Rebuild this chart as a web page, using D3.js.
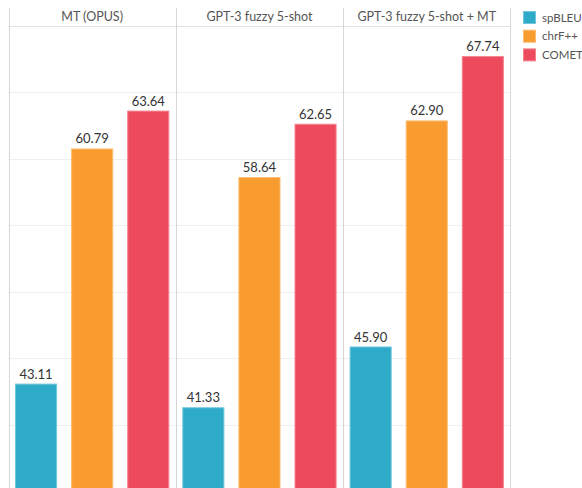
<!DOCTYPE html>
<html>
<head>
<meta charset="utf-8">
<script src="https://cdn.jsdelivr.net/npm/d3@7"></script>
<style>
  body { margin: 0; background: #fff; }
  svg { display: block; font-family: Lato, "Open Sans", sans-serif; }
</style>
</head>
<body>
<svg id="chart"></svg>
<script>
// data
const systems = ["MT (OPUS)", "GPT-3 fuzzy 5-shot", "GPT-3 fuzzy 5-shot + MT"];
const metrics = ["spBLEU", "chrF++", "COMET"];
const spBLEU = [43.11, 41.33, 45.90];
const chrF = [60.79, 58.64, 62.90];
const comet = [63.64, 62.65, 67.74];
const gridValues = [40, 45, 50, 55, 60, 65];

const seriesValues = [spBLEU, chrF, comet];
const colors = ["#2fabca", "#f99c2f", "#ee4a5d"];
const strokes = ["#6fc6dd", "#fbbb73", "#f48390"];

const W = 582, H = 488;
const left = 8.5, panelW = 167.3, headerTop = 8, headerBottom = 26;

const svg = d3.select("#chart").attr("width", W).attr("height", H);

const panel = d3.scaleBand().domain(systems)
  .range([left, left + panelW * systems.length]).padding(0);

const x = d3.scaleBand().domain(metrics)
  .range([0, panelW]).paddingInner(0.25).paddingOuter(0.116);

const y = d3.scaleLinear().domain([35.26, 70]).range([H, headerBottom]);

// horizontal gridlines
svg.append("g").selectAll("line").data(gridValues).join("line")
  .attr("x1", left).attr("x2", left + panelW * systems.length)
  .attr("y1", d => Math.round(y(d)) + 0.5).attr("y2", d => Math.round(y(d)) + 0.5)
  .attr("stroke", "#f0f0f0");

// header bottom line
svg.append("line")
  .attr("x1", left).attr("x2", left + panelW * systems.length)
  .attr("y1", headerBottom + 0.5).attr("y2", headerBottom + 0.5)
  .attr("stroke", "#e2e2e2");

// panel borders
const edges = systems.map(s => panel(s)).concat([left + panelW * systems.length]);
svg.append("g").selectAll("line").data(edges).join("line")
  .attr("x1", d => Math.round(d) + 0.5).attr("x2", d => Math.round(d) + 0.5)
  .attr("y1", headerTop).attr("y2", H)
  .attr("stroke", "#d6d6d6");

// headers
svg.append("g").selectAll("text").data(systems).join("text")
  .attr("x", d => panel(d) + panelW / 2)
  .attr("y", 21)
  .attr("text-anchor", "middle")
  .style("font-size", "12.5px")
  .style("fill", "#555")
  .text(d => d);

// bars
const groups = svg.append("g").selectAll("g").data(systems).join("g")
  .attr("transform", d => `translate(${panel(d)},0)`);

groups.each(function(sys, si) {
  const g = d3.select(this);
  metrics.forEach((m, mi) => {
    const v = seriesValues[mi][si];
    g.append("rect")
      .attr("x", x(m) + 0.5)
      .attr("y", y(v) + 0.5)
      .attr("width", x.bandwidth() - 1)
      .attr("height", H - y(v) + 2)
      .attr("fill", colors[mi])
      .attr("stroke", strokes[mi])
      .attr("stroke-width", 1);

    g.append("text")
      .attr("x", x(m) + x.bandwidth() / 2)
      .attr("y", y(v) - 5)
      .attr("text-anchor", "middle")
      .style("font-size", "13px")
      .style("fill", "#333")
      .text(v.toFixed(2));
  });
});

// legend
const legend = svg.append("g").attr("transform", "translate(523,11)");
const items = legend.selectAll("g").data(metrics).join("g")
  .attr("transform", (d, i) => `translate(0,${i * 18.7})`);

items.append("rect")
  .attr("x", 0.5).attr("y", 0.5)
  .attr("width", 12).attr("height", 12)
  .attr("fill", (d, i) => colors[i])
  .attr("stroke", (d, i) => strokes[i]);

items.append("text")
  .attr("x", 19).attr("y", 10.5)
  .style("font-size", "11.5px")
  .style("fill", "#555")
  .text(d => d);
</script>
</body>
</html>
